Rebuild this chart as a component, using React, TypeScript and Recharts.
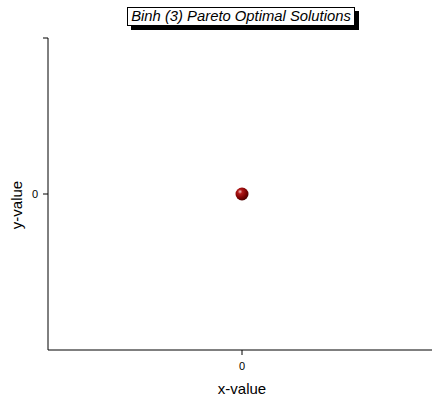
import { Scatter, ScatterChart, XAxis, YAxis } from "recharts";

// Binh (3) pareto front: a single solution at the origin
const xValues = [0];
const yValues = [0];
const points = xValues.map((x, i) => ({ x, y: yValues[i] }));

const xDomain = [-1, 1];
const yDomain = [-1, 1];
const xTicks = [0];
const yTicks = [0, 1];

const title = "Binh (3) Pareto Optimal Solutions";
const xLabel = "x-value";
const yLabel = "y-value";

const FONT = "'Liberation Sans', Arial, Helvetica, sans-serif";

function Ball(props: any) {
  const { cx, cy } = props;
  return (
    <g>
      <defs>
        <radialGradient id="ball" cx="35%" cy="32%" r="70%">
          <stop offset="0%" stopColor="#f4c4c4" />
          <stop offset="25%" stopColor="#b01818" />
          <stop offset="70%" stopColor="#7a0000" />
          <stop offset="100%" stopColor="#4a0000" />
        </radialGradient>
      </defs>
      <circle cx={cx} cy={cy} r={6.5} fill="url(#ball)" />
    </g>
  );
}

function YLabel(props: any) {
  const vb = props.viewBox || {};
  const x = 16;
  const y = (vb.y ?? 0) + (vb.height ?? 0) / 2 + 11;
  return (
    <text
      x={x}
      y={y}
      transform={`rotate(-90, ${x}, ${y})`}
      textAnchor="middle"
      dominantBaseline="central"
      fill="#000"
      fontSize={15}
      fontFamily={FONT}
    >
      {yLabel}
    </text>
  );
}

export default function App() {
  return (
    <div
      style={{
        position: "absolute",
        left: 0,
        top: 0,
        width: 432,
        height: 405,
        background: "#fff",
        fontFamily: FONT,
        overflow: "hidden",
      }}
    >
      <ScatterChart
        width={436}
        height={405}
        margin={{ top: 38, right: 0, bottom: 0, left: 0 }}
      >
        <XAxis
          type="number"
          dataKey="x"
          domain={xDomain}
          ticks={xTicks}
          height={55}
          stroke="#000"
          tickSize={5}
          tickMargin={7}
          tick={{ fill: "#000", stroke: "none", fontSize: 11, fontFamily: FONT }}
          label={{
            value: xLabel,
            position: "insideBottom",
            offset: 11,
            fill: "#000",
            fontSize: 15,
            fontFamily: FONT,
          }}
        />
        <YAxis
          type="number"
          dataKey="y"
          domain={yDomain}
          ticks={yTicks}
          width={48}
          stroke="#000"
          tickSize={5}
          tickMargin={5}
          tickFormatter={(v: number) => (v === 0 ? "0" : "")}
          tick={{ fill: "#000", stroke: "none", fontSize: 11, fontFamily: FONT }}
          label={<YLabel />}
        />
        <Scatter data={points} shape={<Ball />} isAnimationActive={false} />
      </ScatterChart>
      <div
        style={{
          position: "absolute",
          left: 127,
          top: 7,
          width: 226,
          height: 17,
          border: "1px solid #000",
          background: "#fff",
          boxShadow: "4px 4px 0 #000",
          fontStyle: "italic",
          fontSize: 14.8,
          lineHeight: "17px",
          textAlign: "center",
          color: "#000",
          whiteSpace: "nowrap",
        }}
      >
        {title}
      </div>
    </div>
  );
}
